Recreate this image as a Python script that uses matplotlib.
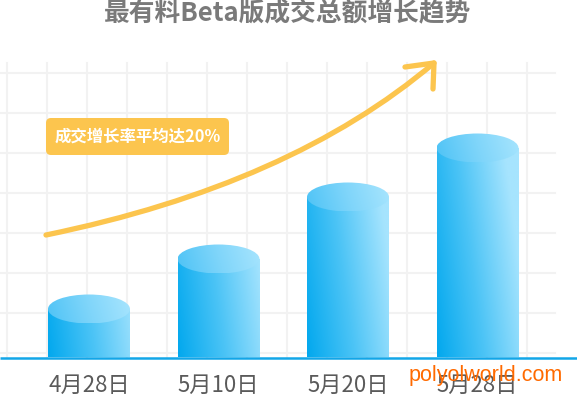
import numpy as np
import matplotlib
matplotlib.use("Agg")
import matplotlib.pyplot as plt
from matplotlib.colors import LinearSegmentedColormap
from matplotlib.patches import Rectangle, Ellipse, FancyBboxPatch, PathPatch
from matplotlib.path import Path

plt.rcParams["font.family"] = ["Noto Sans CJK SC", "DejaVu Sans"]

# data (relative turnover, read from cylinder heights)
dates = ["4月28日", "5月10日", "5月20日", "5月28日"]
values = [48, 98, 160, 209]
title = "最有料Beta版成交总额增长趋势"
note = "成交增长率平均达20%"
watermark = "polyolworld.com"

W, H = 577, 399
YELLOW = "#FCC54E"
GRID = "#F2F2F2"
BASE = "#12A6E8"

body_cmap = LinearSegmentedColormap.from_list("body", ["#02A8EE", "#4CC4F6", "#A6E4FE"])
top_cmap = LinearSegmentedColormap.from_list("top", ["#4EC3F6", "#7FD5FA", "#A8E5FE"])


def main():
    fig = plt.figure(figsize=(W / 100, H / 100), dpi=100)
    fig.patch.set_facecolor("white")

    # background layer in pixel units (y measured from top)
    bg = fig.add_axes([0, 0, 1, 1], zorder=0)
    bg.set_xlim(0, W)
    bg.set_ylim(H, 0)
    bg.set_axis_off()

    for gx in np.arange(7, 556, 40):
        bg.plot([gx, gx], [63, 357], color=GRID, lw=1.5, zorder=1)
    for gy in np.arange(73, 357, 40):
        bg.plot([0, 555], [gy, gy], color=GRID, lw=1.5, zorder=1)

    bg.text(288, 14, title, ha="center", va="center", fontsize=18.5,
            weight="bold", color="#7A7A7A")

    # data layer
    ax = fig.add_axes([24.25 / W, 42 / H, 518 / W, 357 / H], zorder=2)
    ax.patch.set_visible(False)
    ax.set_xlim(-0.5, 3.5)
    ax.set_ylim(0, 357)
    for s in ax.spines.values():
        s.set_visible(False)
    ax.set_yticks([])
    ax.set_xticks(range(len(dates)))
    ax.set_xticklabels(dates, fontsize=16, color="#5A5A5A")
    ax.tick_params(axis="x", length=0, pad=12)

    bw = 0.633
    eh = 29
    gx, gy = np.meshgrid(np.linspace(0, 1, 120), np.linspace(0, 1, 200))
    for i, v in enumerate(values):
        x0, x1 = i - bw / 2, i + bw / 2
        # body
        t = np.clip(0.85 * gx + 0.3 * gy * (v / 209), 0, 1)
        rect = Rectangle((x0, 0), bw, v, facecolor="none", edgecolor="none")
        ax.add_patch(rect)
        im = ax.imshow(t, cmap=body_cmap, vmin=0, vmax=1, origin="lower",
                       extent=[x0, x1, 0, v], aspect="auto", zorder=3,
                       interpolation="bilinear")
        im.set_clip_path(rect)
        # top
        ell = Ellipse((i, v), bw, eh, facecolor="none", edgecolor="none")
        ax.add_patch(ell)
        t2 = np.clip(0.9 * gx + 0.1 * gy, 0, 1)
        im2 = ax.imshow(t2, cmap=top_cmap, vmin=0, vmax=1, origin="lower",
                        extent=[x0, x1, v - eh / 2, v + eh / 2], aspect="auto",
                        zorder=4, interpolation="bilinear")
        im2.set_clip_path(ell)
    ax.set_xlim(-0.5, 3.5)
    ax.set_ylim(0, 357)

    # baseline over everything
    bg2 = fig.add_axes([0, 0, 1, 1], zorder=3)
    bg2.set_xlim(0, W)
    bg2.set_ylim(H, 0)
    bg2.set_axis_off()
    bg2.patch.set_visible(False)
    bg2.plot([0, W], [357.5, 357.5], color=BASE, lw=1.8, solid_capstyle="butt")

    # growth arrow
    curve = Path([(46, 235), (290, 185), (434, 63)],
                 [Path.MOVETO, Path.CURVE3, Path.CURVE3])
    bg2.add_patch(PathPatch(curve, facecolor="none", edgecolor=YELLOW, lw=3.8,
                            capstyle="round"))
    bg2.plot([405, 434, 433], [67, 63, 89], color=YELLOW, lw=3.8,
             solid_capstyle="round", solid_joinstyle="round")

    # note box
    bg2.add_patch(FancyBboxPatch((46, 118), 183, 37,
                                 boxstyle="round,pad=0,rounding_size=5",
                                 facecolor=YELLOW, edgecolor="none"))
    bg2.text(137.5, 136.5, note, ha="center", va="center", fontsize=11.8,
             weight="bold", color="white")

    bg2.text(486, 375, watermark, ha="center", va="center", fontsize=15.5,
             color="#FF6A00", family="Liberation Sans")

    fig.savefig("out.png", dpi=100)


if __name__ == "__main__":
    main()
